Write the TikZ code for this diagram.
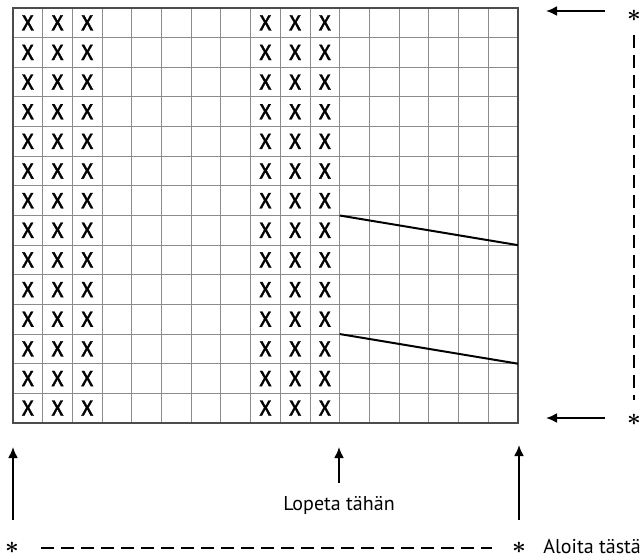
\documentclass[tikz,border=0pt]{standalone}
\usepackage{fontspec}
\setmainfont{PT Sans}
\newfontfamily\crossfont[FakeBold=1.4]{Fira Sans}
\usetikzlibrary{arrows.meta}
\tikzset{
   cellline/.style={draw=black!45, line width=0.5pt},
   frameline/.style={draw=black!70, line width=0.6pt},
   cross/.style={inner sep=0pt, font=\crossfont\fontsize{11}{11}\selectfont},
   slant/.style={draw, line width=1pt},
   pointer/.style={draw, line width=1pt, -{Latex[length=5.5pt, width=5pt]}},
   track/.style={draw, line width=1pt, dash pattern=on 6.5pt off 3.5pt},
   star/.style={inner sep=0pt, font=\fontsize{12}{12}\selectfont\boldmath},
   caption/.style={inner sep=0pt, font=\fontsize{10}{10}\selectfont}
}
\begin{document}
\begin{tikzpicture}[x=0.5pt, y=-0.5pt]
   \useasboundingbox (0,0) rectangle (641,559);
   % chart grid
   \begin{scope}[shift={(13,8)}, x=14.85pt, y=-14.82pt]
      \foreach \i in {0,...,17} {
         \foreach \j in {0,...,14} {
            \coordinate (g-\i-\j) at (\i,\j);
         }
      }
      \foreach \i in {1,...,16} {
         \path[cellline] (g-\i-0) -- (g-\i-14);
      }
      \foreach \j in {1,...,13} {
         \path[cellline] (g-0-\j) -- (g-17-\j);
      }
      \path[frameline] (g-0-0) rectangle (g-17-14);
      \foreach \c in {1,2,3,9,10,11} {
         \foreach \r in {1,...,14} {
            \node[cross] (x-\c-\r) at (\c-0.5,\r-0.5) {X};
         }
      }
   \end{scope}
   \path[slant] (g-11-7) -- (g-17-8);
   \path[slant] (g-11-11) -- (g-17-12);
   % arrows
   \def \Arrows {
      top/605/11/546/11,
      bot/605/418/546/418,
      left/13/520/13/447,
      mid/339/483/339/447,
      right/519/520/519/445}
   \foreach \n / \xa / \ya / \xb / \yb in \Arrows {
      \coordinate (\n-s) at (\xa,\ya);
      \coordinate (\n-e) at (\xb,\yb);
      \path[pointer] (\n-s) -- (\n-e);
   }
   % stars and dashed track
   \node[star] (s-top) at (634,16) {$\ast$};
   \node[star] (s-bot) at (634,420) {$\ast$};
   \node[star] (s-left) at (12,548) {$\ast$};
   \node[star] (s-start) at (519,548) {$\ast$};
   \path[track, shorten <=6.5pt, shorten >=7pt] (s-top) -- (s-bot);
   \path[track, shorten <=11pt, shorten >=10pt] (s-left) -- (s-start);
   \node[caption, anchor=base] (stop) at (339,510) {Lopeta tähän};
   \node[caption, anchor=base west] (start) at (543,553) {Aloita tästä};
\end{tikzpicture}
\end{document}
